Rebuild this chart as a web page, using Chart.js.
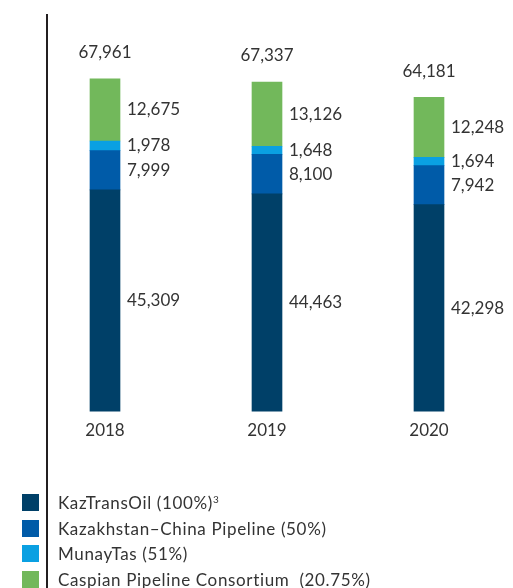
<!DOCTYPE html>
<html><head><meta charset="utf-8">
<script src="https://cdn.jsdelivr.net/npm/chart.js@4.4.1/dist/chart.umd.min.js"></script>
<style>
html,body{margin:0;padding:0;background:#fff;}
#wrap{position:relative;width:513px;height:588px;overflow:hidden;font-family:Lato,"Open Sans",sans-serif;}
#c{position:absolute;left:0;top:0;}
#vline{position:absolute;left:46px;top:14px;width:2px;height:574px;background:#231f20;}
.item{position:absolute;left:22px;height:17px;display:flex;align-items:center;white-space:pre;}
.sw{width:17px;height:17px;flex:none;}
.txt{margin-left:19px;font-size:17px;letter-spacing:0.65px;color:#333;line-height:17px;white-space:pre;}
.txt sup{font-size:10px;vertical-align:6px;line-height:0;letter-spacing:0;}
</style></head>
<body>
<div id="wrap">
<canvas id="c" width="513" height="460"></canvas>
<div id="vline"></div>
<div id="legend"></div>
</div>
<script>
const years = ['2018', '2019', '2020'];
const kazTransOil = [45309, 44463, 42298];
const kazChina = [7999, 8100, 7942];
const munayTas = [1978, 1648, 1694];
const cpc = [12675, 13126, 12248];
const totals = [67961, 67337, 64181];
const seriesNames = ['KazTransOil (100%)', 'Kazakhstan–China Pipeline (50%)', 'MunayTas (51%)', 'Caspian Pipeline Consortium  (20.75%)'];
const seriesSup = ['3', '', '', ''];
const colors = ['#004068', '#005BA8', '#0AA0E2', '#72B85B'];

const fmt = v => v.toLocaleString('en-US');
const FONT = '17px Lato, "Open Sans", sans-serif';

const labelPlugin = {
  id: 'labels',
  afterDatasetsDraw(chart) {
    const ctx = chart.ctx;
    ctx.save();
    ctx.font = FONT;
    ctx.fillStyle = '#333';
    ctx.textBaseline = 'middle';
    const n = chart.data.labels.length;
    for (let i = 0; i < n; i++) {
      let prevY = null;
      for (let d = chart.data.datasets.length - 1; d >= 0; d--) {
        const el = chart.getDatasetMeta(d).data[i];
        let cy = (el.y + el.base) / 2;
        if (prevY !== null && cy < prevY + 24) cy = prevY + 24;
        prevY = cy;
        ctx.textAlign = 'left';
        ctx.fillText(fmt(chart.data.datasets[d].data[i]), el.x + el.width / 2 + 7, cy);
      }
      const topEl = chart.getDatasetMeta(chart.data.datasets.length - 1).data[i];
      const yTot = chart.scales.y.getPixelForValue(totals[i]);
      ctx.textAlign = 'center';
      ctx.fillText(fmt(totals[i]), topEl.x, yTot - 26);
    }
    ctx.restore();
  }
};

const data = {
  labels: years,
  datasets: [
    { label: seriesNames[0], data: kazTransOil, backgroundColor: colors[0] },
    { label: seriesNames[1], data: kazChina, backgroundColor: colors[1] },
    { label: seriesNames[2], data: munayTas, backgroundColor: colors[2] },
    { label: seriesNames[3], data: cpc, backgroundColor: colors[3] }
  ]
};

new Chart(document.getElementById('c'), {
  type: 'bar',
  data,
  options: {
    responsive: false,
    animation: false,
    layout: { padding: { left: 24, right: 3, top: 20, bottom: 18 } },
    datasets: { bar: { barThickness: 30, borderWidth: 0 } },
    plugins: { legend: { display: false }, tooltip: { enabled: false } },
    scales: {
      x: {
        stacked: true,
        grid: { display: false },
        border: { display: false },
        ticks: { color: '#333', font: { family: 'Lato, "Open Sans", sans-serif', size: 17 }, padding: 1 }
      },
      y: { stacked: true, display: false, min: 0, max: 80000 }
    }
  },
  plugins: [labelPlugin]
});

const legend = document.getElementById('legend');
seriesNames.forEach((name, i) => {
  const it = document.createElement('div');
  it.className = 'item';
  it.style.top = (494 + i * 25.5) + 'px';
  const sw = document.createElement('div');
  sw.className = 'sw';
  sw.style.background = colors[i];
  const tx = document.createElement('div');
  tx.className = 'txt';
  tx.textContent = name;
  if (seriesSup[i]) { const s = document.createElement('sup'); s.textContent = seriesSup[i]; tx.appendChild(s); }
  it.appendChild(sw); it.appendChild(tx);
  legend.appendChild(it);
});
</script>
</body></html>
